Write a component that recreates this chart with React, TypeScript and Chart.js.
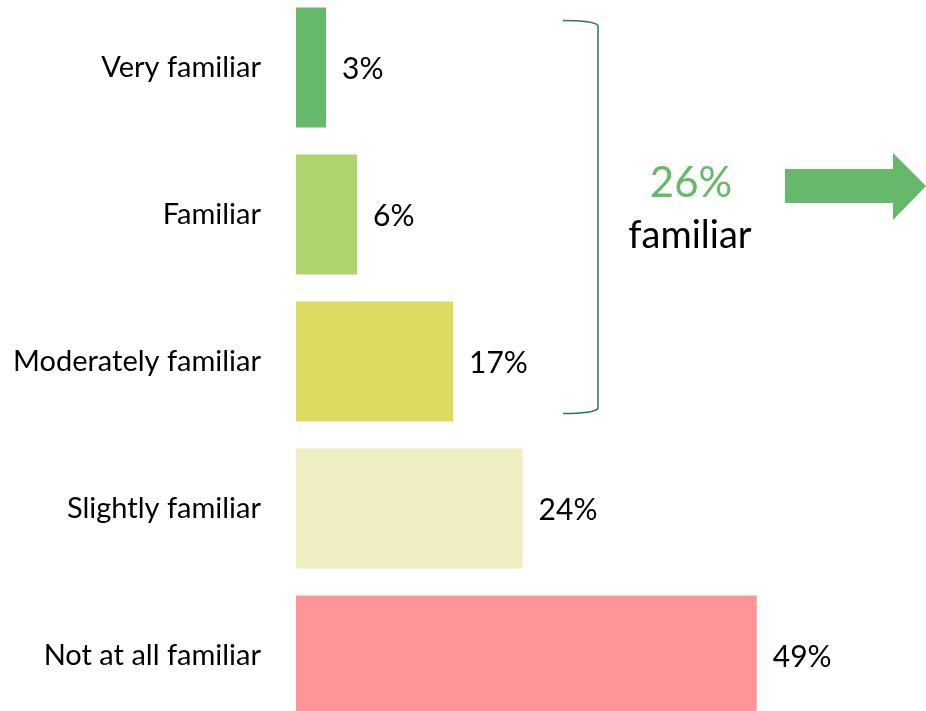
import React, { useEffect, useRef } from "react";
import { Chart, registerables } from "chart.js";

Chart.register(...registerables);

const categories = ["Very familiar", "Familiar", "Moderately familiar", "Slightly familiar", "Not at all familiar"];
const values = [3.2, 6.5, 16.7, 24.1, 49.0];
const valueLabels = ["3%", "6%", "17%", "24%", "49%"];
const barColors = ["#66b96a", "#aed46e", "#dbdb62", "#f0efc2", "#ff9598"];
const summaryValue = "26%";
const summaryLabel = "familiar";

const FONT = "Lato, 'Open Sans', sans-serif";

const annotationPlugin = {
  id: "annots",
  afterDatasetsDraw(chart: any) {
    const ctx = chart.ctx;
    const meta = chart.getDatasetMeta(0);
    const ys = chart.scales.y;
    ctx.save();
    // value labels
    ctx.font = `30px ${FONT}`;
    ctx.fillStyle = "#000";
    ctx.textAlign = "left";
    ctx.textBaseline = "middle";
    meta.data.forEach((bar: any, i: number) => {
      ctx.fillText(valueLabels[i], bar.x + 16, bar.y + 2);
    });
    // bracket
    const top = ys.getPixelForValue(0) - 46;
    const bot = ys.getPixelForValue(2) + 51;
    const xl = 563;
    const xr = 598;
    const r = 4;
    ctx.strokeStyle = "#2a7a48";
    ctx.lineWidth = 1.5;
    ctx.beginPath();
    ctx.moveTo(xl, top - 1);
    ctx.quadraticCurveTo(xr - r, top - 1, xr, top + r);
    ctx.lineTo(xr, bot - r);
    ctx.quadraticCurveTo(xr - r, bot + 1, xl, bot + 1);
    ctx.stroke();
    // summary texts
    const midY = (top + bot) / 2;
    ctx.textAlign = "center";
    ctx.textBaseline = "alphabetic";
    ctx.fillStyle = "#66b96a";
    ctx.font = `42px ${FONT}`;
    ctx.fillText(summaryValue, 691, midY - 20);
    ctx.fillStyle = "#000";
    ctx.font = `38px ${FONT}`;
    ctx.fillText(summaryLabel, 690, midY + 31);
    // arrow
    const ay = midY - 31;
    ctx.fillStyle = "#66b96a";
    ctx.beginPath();
    ctx.moveTo(785, ay - 17);
    ctx.lineTo(893, ay - 17);
    ctx.lineTo(893, ay - 33);
    ctx.lineTo(926, ay);
    ctx.lineTo(893, ay + 34);
    ctx.lineTo(893, ay + 17);
    ctx.lineTo(785, ay + 17);
    ctx.closePath();
    ctx.fill();
    ctx.restore();
  },
};

export default function App() {
  const ref = useRef<HTMLCanvasElement>(null);
  useEffect(() => {
    if (!ref.current) return;
    const chart = new Chart(ref.current, {
      type: "bar",
      data: {
        labels: categories,
        datasets: [
          {
            data: values,
            backgroundColor: barColors,
            borderWidth: 0,
            categoryPercentage: 1,
            barPercentage: 0.816,
          },
        ],
      },
      options: {
        indexAxis: "y",
        animation: false,
        responsive: false,
        layout: { padding: 0 },
        plugins: { legend: { display: false }, tooltip: { enabled: false } },
        scales: {
          x: {
            display: false,
            min: 0,
            max: 67,
          },
          y: {
            grid: { display: false },
            border: { display: false },
            afterFit: (s: any) => {
              s.width = 296;
              s.paddingTop = 0;
              s.paddingBottom = 0;
            },
            ticks: {
              padding: 27,
              color: "#000",
              font: { family: FONT, size: 29 },
            },
          },
        },
      },
      plugins: [annotationPlugin],
    });
    return () => chart.destroy();
  }, []);
  return (
    <div style={{ position: "fixed", left: 0, top: -6, width: 926, height: 735, background: "#fff" }}>
      <canvas ref={ref} width={926} height={735} style={{ display: "block" }} />
    </div>
  );
}
